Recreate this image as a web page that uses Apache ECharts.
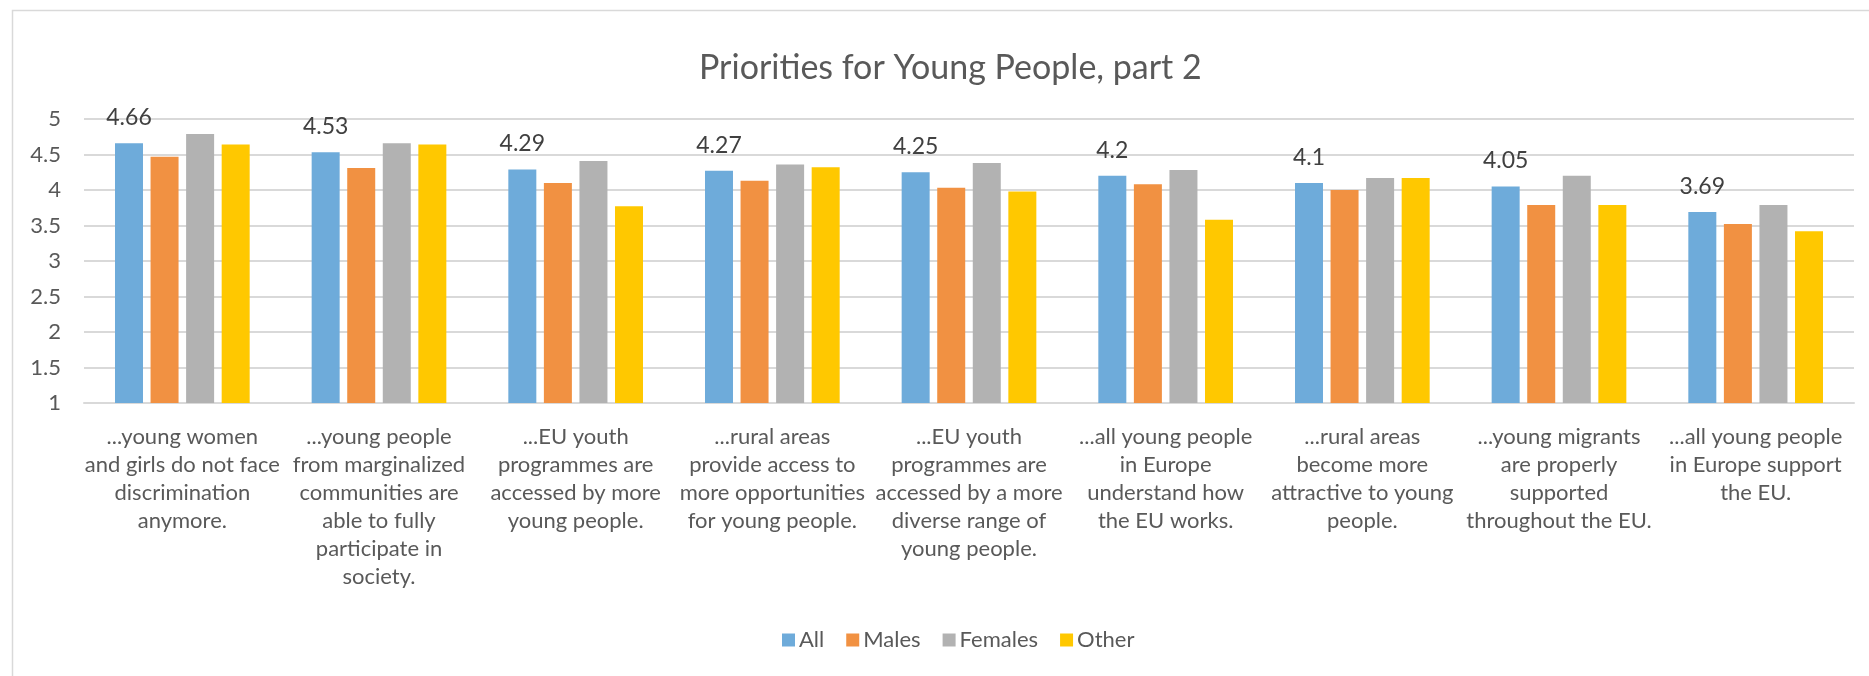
<!DOCTYPE html>
<html>
<head>
<meta charset="utf-8">
<title>Priorities for Young People, part 2</title>
<script src="https://cdn.jsdelivr.net/npm/echarts@6/dist/echarts.min.js"></script>
<style>
  html, body { margin: 0; padding: 0; background: #ffffff; }
  #chart { width: 1869px; height: 676px; }
</style>
</head>
<body>
<div id="chart"></div>
<script>
// Survey statements (wrapped as they appear under the axis)
const categories = [
  '...young women\nand girls do not face\ndiscrimination\nanymore.',
  '...young people\nfrom marginalized\ncommunities are\nable to fully\nparticipate in\nsociety.',
  '...EU youth\nprogrammes are\naccessed by more\nyoung people.',
  '...rural areas\nprovide access to\nmore opportunities\nfor young people.',
  '...EU youth\nprogrammes are\naccessed by a more\ndiverse range of\nyoung people.',
  '...all young people\nin Europe\nunderstand how\nthe EU works.',
  '...rural areas\nbecome more\nattractive to young\npeople.',
  '...young migrants\nare properly\nsupported\nthroughout the EU.',
  '...all young people\nin Europe support\nthe EU.'
];

// Mean priority score per group
const allValues     = [4.66, 4.53, 4.29, 4.27, 4.25, 4.2, 4.1, 4.05, 3.69];
const maleValues    = [4.47, 4.31, 4.10, 4.13, 4.03, 4.08, 4.00, 3.79, 3.52];
const femaleValues  = [4.79, 4.66, 4.41, 4.36, 4.38, 4.28, 4.17, 4.20, 3.79];
const otherValues   = [4.64, 4.64, 3.77, 4.32, 3.98, 3.58, 4.17, 3.79, 3.42];

const seriesNames = ['All', 'Males', 'Females', 'Other'];
const seriesColors = ['#6eabda', '#f19142', '#b2b2b2', '#ffc800'];

const FONT = 'Lato, "Open Sans", sans-serif';
const TEXT = '#595959';

const chart = echarts.init(document.getElementById('chart'), null, { renderer: 'canvas' });

function barSeries(name, data, color, withLabel) {
  return {
    name: name,
    type: 'bar',
    data: data,
    barWidth: 28,
    barGap: '27%',
    itemStyle: { color: color },
    label: withLabel ? {
      show: true,
      position: 'top',
      distance: 14,
      fontFamily: FONT,
      fontSize: 23,
      color: '#404040'
    } : { show: false },
    emphasis: { disabled: true }
  };
}

chart.setOption({
  animation: false,
  backgroundColor: '#ffffff',
  textStyle: { fontFamily: FONT },
  graphic: [{
    type: 'rect',
    shape: { x: 12.5, y: 10.5, width: 1900, height: 700 },
    style: { fill: 'none', stroke: '#d9d9d9', lineWidth: 1.5 },
    silent: true,
    z: -10
  }],
  title: {
    text: 'Priorities for Young People, part 2',
    left: 694,
    top: 46,
    textStyle: { fontFamily: FONT, fontSize: 34, fontWeight: 'normal', color: TEXT }
  },
  legend: {
    data: seriesNames,
    left: 777,
    top: 624,
    icon: 'rect',
    itemWidth: 13,
    itemHeight: 13,
    itemGap: 22,
    textStyle: { fontFamily: FONT, fontSize: 22, color: TEXT, padding: [0, 0, 0, -1] }
  },
  grid: {
    left: 84,
    right: 15,
    top: 119,
    bottom: 273,
    containLabel: false,
    outerBoundsMode: 'none'
  },
  xAxis: {
    type: 'category',
    data: categories,
    axisTick: { show: false },
    axisLine: { show: true, lineStyle: { color: '#d9d9d9', width: 2 } },
    axisLabel: {
      interval: 0,
      margin: 20,
      fontFamily: FONT,
      fontSize: 22,
      lineHeight: 28,
      color: TEXT,
      align: 'center'
    }
  },
  yAxis: {
    type: 'value',
    min: 1,
    max: 5,
    interval: 0.5,
    axisLine: { show: false },
    axisTick: { show: false },
    splitLine: { lineStyle: { color: '#d9d9d9', width: 2 } },
    axisLabel: { fontFamily: FONT, fontSize: 22, color: TEXT, margin: 23 }
  },
  series: [
    barSeries(seriesNames[0], allValues, seriesColors[0], true),
    barSeries(seriesNames[1], maleValues, seriesColors[1], false),
    barSeries(seriesNames[2], femaleValues, seriesColors[2], false),
    barSeries(seriesNames[3], otherValues, seriesColors[3], false)
  ]
});
</script>
</body>
</html>
